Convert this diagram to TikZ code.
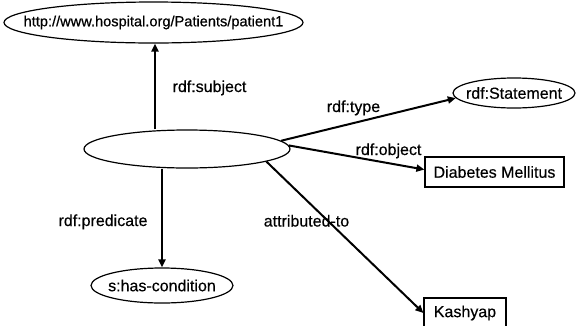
\documentclass[tikz,border=0pt]{standalone}
\usepackage{fontspec}
\setmainfont{Liberation Sans}[FakeBold=0.35]
\usetikzlibrary{arrows.meta,shapes.geometric}
\begin{document}
\begin{tikzpicture}[x=1pt,y=-1pt,
  every node/.style={font=\fontsize{16}{19}\selectfont},
  res/.style={ellipse, draw, line width=1.2pt, inner sep=0pt},
  lit/.style={rectangle, draw, line width=1.2pt, inner sep=0pt},
  prop/.style={line width=2pt, -{Triangle[length=8pt,width=7pt]}},
  plabel/.style={anchor=base, inner sep=0pt}]
% canvas
\fill[white] (0,0) rectangle (576,325);
\clip (0,0) rectangle (576,325);

% resources and literals
\node[res, minimum width=299pt, minimum height=41pt,
      font=\fontsize{14.6}{18}\selectfont\addfontfeature{FakeBold=0.6}] (url) at (153.5,22.5)
      {\makebox[0pt]{http://www.hospital.org/Patients/patient1}};
\node[res, minimum width=206pt, minimum height=38pt] (stmt) at (187,149) {};
\node[res, minimum width=122pt, minimum height=30pt] (type) at (514,93)
      {\makebox[0pt]{rdf:Statement}};
\node[res, minimum width=142pt, minimum height=35pt] (cond) at (162,285.5)
      {\makebox[0pt]{s:has-condition}};
\node[lit, minimum width=139pt, minimum height=30pt] (diab) at (494.5,172)
      {Diabetes Mellitus};
\node[lit, minimum width=82pt, minimum height=30pt] (kash) at (465,313)
      {Kashyap};

% property labels
\node[plabel] (lsubj) at (209.5,92) {rdf:subject};
\node[plabel] (ltype) at (353.5,112) {rdf:type};
\node[plabel] (lobj)  at (388.5,155) {rdf:object};
\node[plabel] (lpred) at (103,226) {rdf:predicate};
\node[plabel] (lattr) at (306.5,226.5) {attributed-to};

% properties of the reified statement
\draw[prop] ([xshift=1.5pt]stmt.north -| url) -- ([xshift=1.5pt]url.south);
\draw[prop] (stmt.south -| cond) -- (cond.north);
\draw[prop] (stmt.5) -- (type.185);
\draw[prop] (stmt.2) -- (diab.178);
\draw[prop] (stmt.-9) -- (kash.west);
\end{tikzpicture}
\end{document}
